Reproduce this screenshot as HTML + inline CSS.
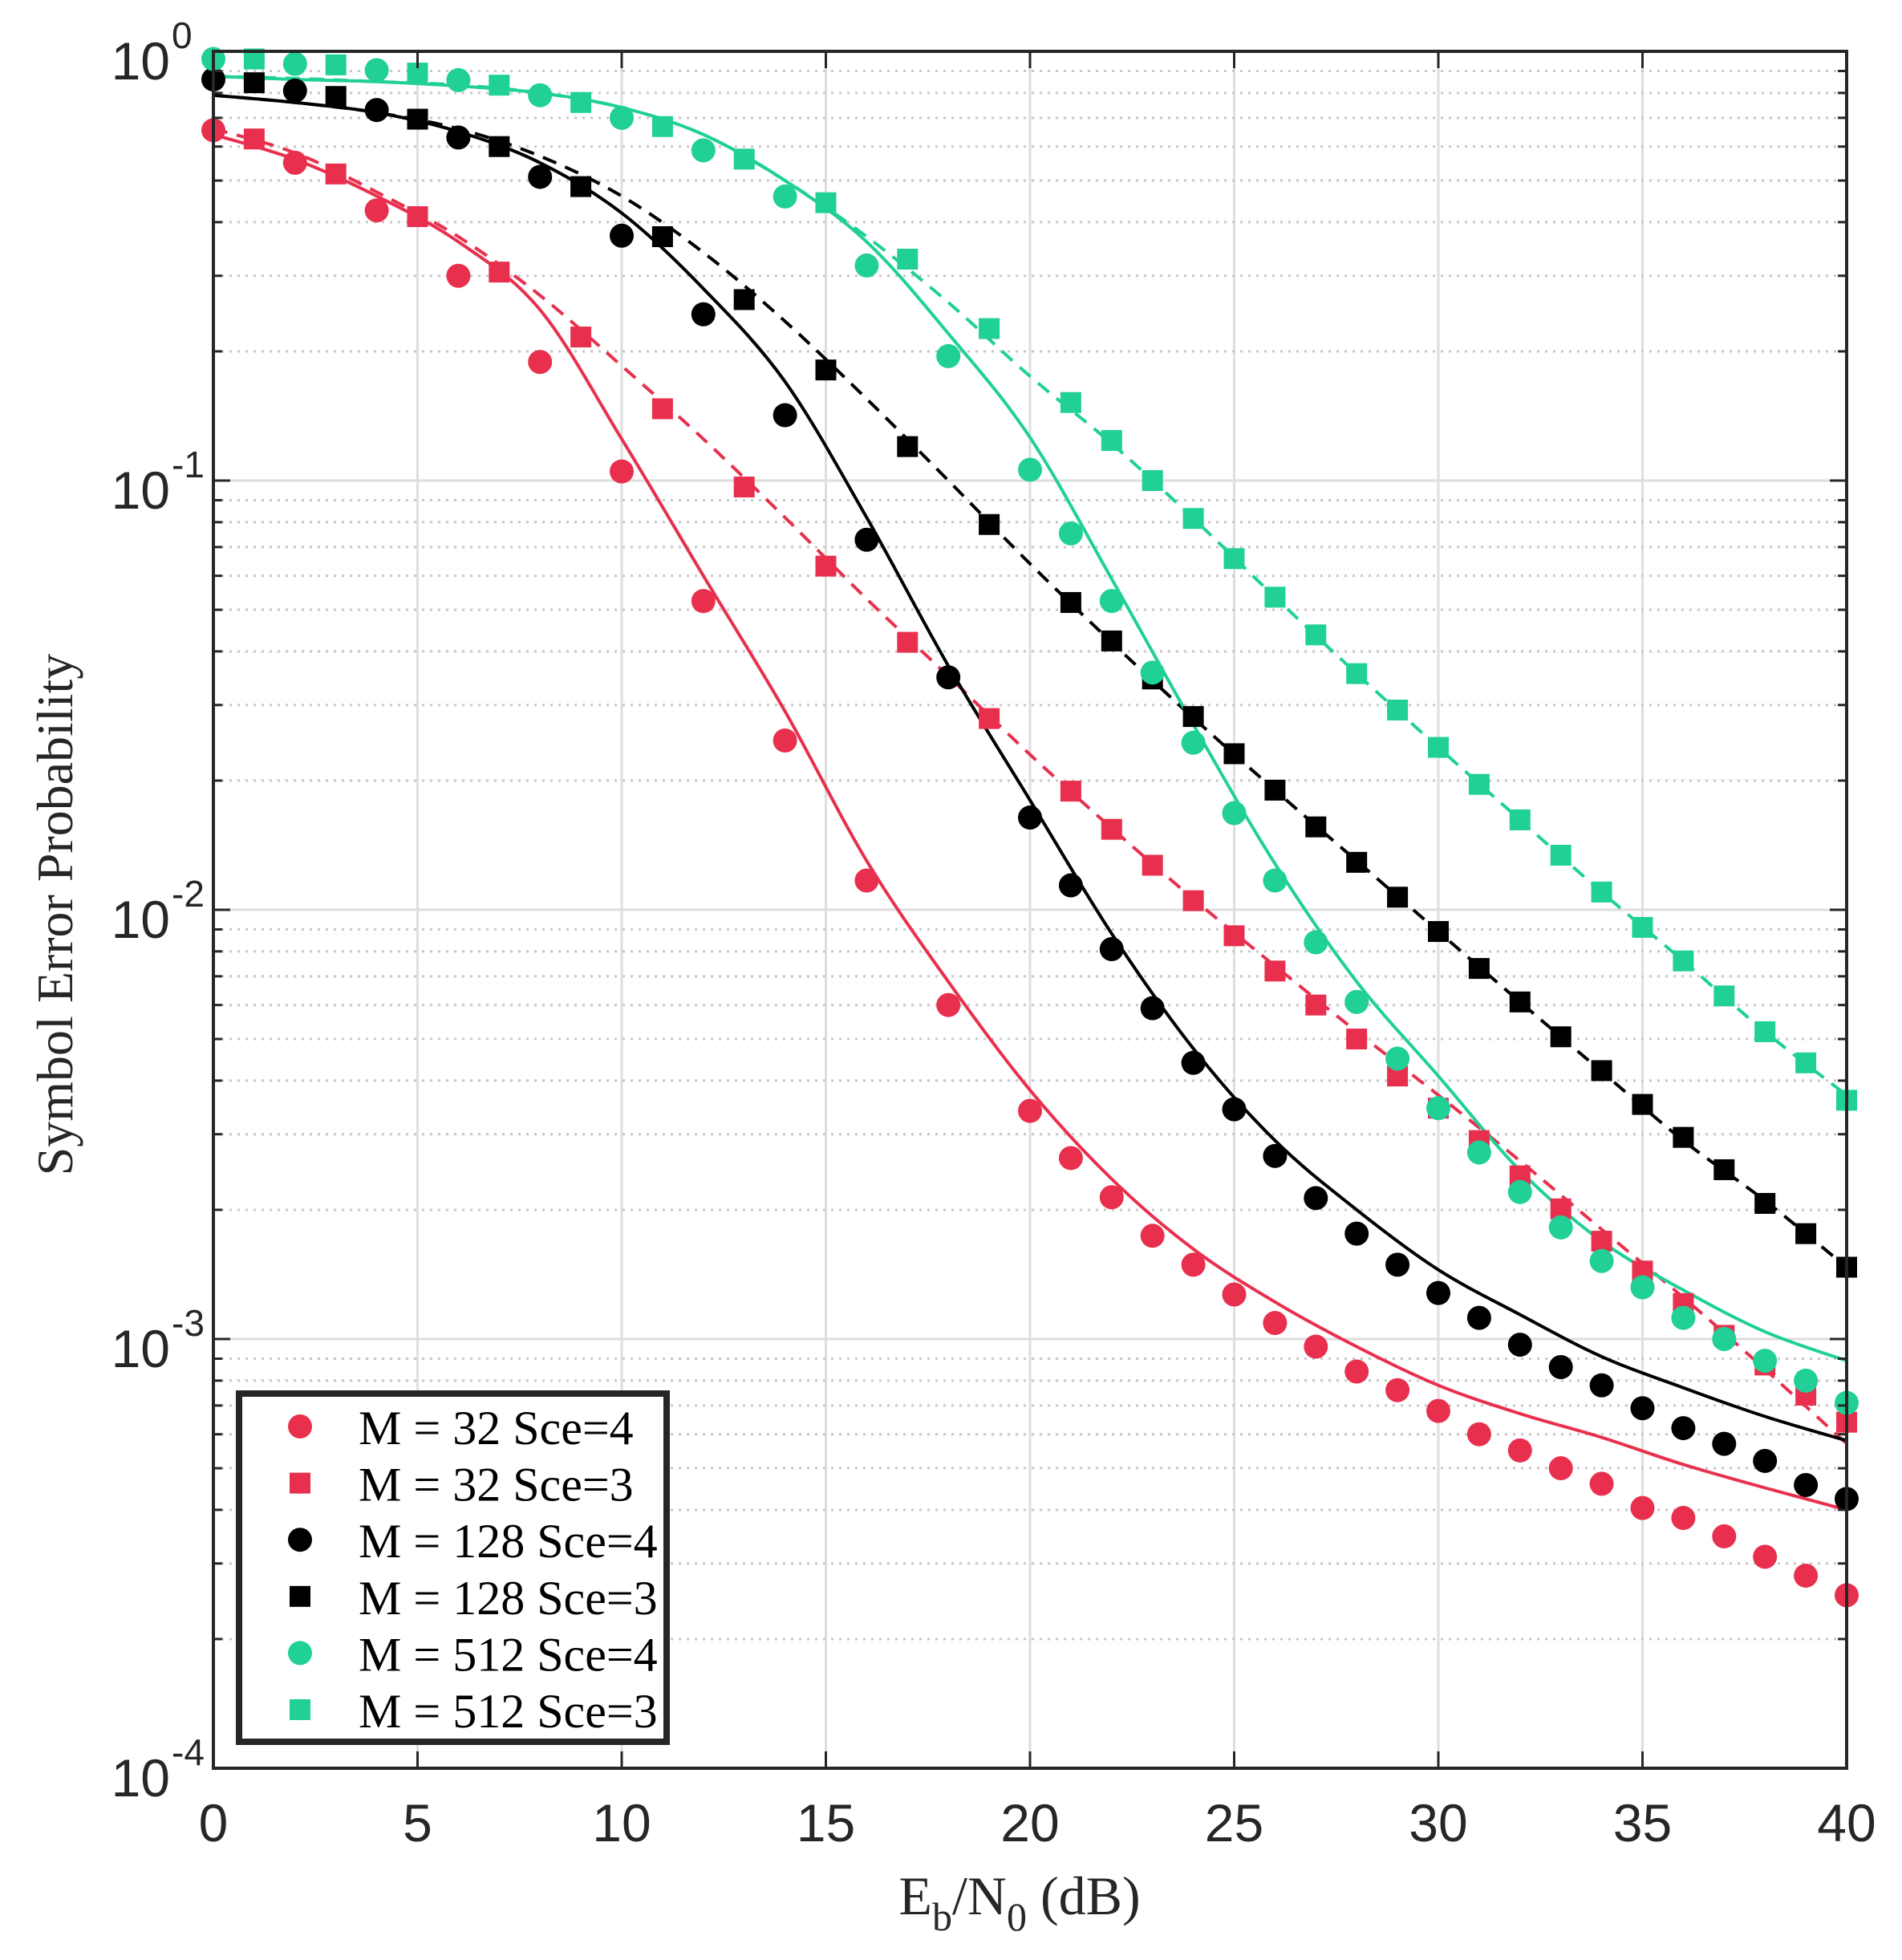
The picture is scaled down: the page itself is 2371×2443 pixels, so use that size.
<!DOCTYPE html>
<html><head><meta charset="utf-8"><style>
html,body{margin:0;padding:0;background:#fff;}
svg{display:block;}
</style></head><body>
<svg id="chart" xmlns="http://www.w3.org/2000/svg" width="2371" height="2443" viewBox="0 0 2371 2443">
<rect x="0" y="0" width="2371" height="2443" fill="#fff"/>
<g id="grid"></g>
<g id="series"></g>
<g id="axes"></g>
<text x="1271" y="2386" font-family="Liberation Serif, serif" font-size="68" fill="#262626" text-anchor="middle">E<tspan font-size="50" dy="20">b</tspan><tspan dy="-20">/N</tspan><tspan font-size="50" dy="20">0</tspan><tspan dy="-20"> (dB)</tspan></text>
<text x="0" y="0" transform="translate(90,1140) rotate(-90)" font-family="Liberation Serif, serif" font-size="64" fill="#262626" text-anchor="middle">Symbol Error Probability</text>
<g id="legend"></g>
</svg>
<script>
const xTicks = [0,5,10,15,20,25,30,35,40];
const yDecades = [0,-1,-2,-3,-4];
const seriesNames = ["M = 32 Sce=4","M = 32 Sce=3","M = 128 Sce=4","M = 128 Sce=3","M = 512 Sce=4","M = 512 Sce=3"];
const circleX = [0,2,4,6,8,10,12,14,16,18,20,21,22,23,24,25,26,27,28,29,30,31,32,33,34,35,36,37,38,39,40];
const squareX = [1,3,5,7,9,11,13,15,17,19,21,22,23,24,25,26,27,28,29,30,31,32,33,34,35,36,37,38,39,40];
const lineX = [0,2,4,6,8,10,12,14,16,18,20,22,24,26,28,30,32,34,36,38,40];
const red4Pts = [0.655,0.55,0.426,0.30,0.189,0.105,0.0524,0.0248,0.0117,0.006,0.0034,0.00264,0.00214,0.00174,0.00149,0.00127,0.00109,0.00096,0.00084,0.00076,0.00068,0.0006,0.00055,0.0005,0.00046,0.000404,0.000383,0.000347,0.000311,0.000281,0.000253];
const red3Pts = [0.625,0.518,0.412,0.306,0.216,0.147,0.0966,0.0632,0.042,0.0279,0.0189,0.0154,0.0127,0.0105,0.0087,0.0072,0.006,0.005,0.0041,0.00345,0.0029,0.0024,0.00201,0.00169,0.00144,0.00121,0.00102,0.00087,0.00074,0.00064];
const blk4Pts = [0.86,0.81,0.73,0.63,0.51,0.372,0.244,0.142,0.0728,0.0348,0.0164,0.0114,0.0081,0.0059,0.0044,0.00343,0.00267,0.00213,0.00176,0.00149,0.00128,0.00112,0.00097,0.00086,0.00078,0.00069,0.00062,0.00057,0.00052,0.000457,0.000424];
const blk3Pts = [0.845,0.785,0.695,0.6,0.484,0.37,0.264,0.181,0.12,0.079,0.052,0.0423,0.0345,0.0282,0.0231,0.019,0.0156,0.0129,0.0107,0.0089,0.0073,0.0061,0.00506,0.00422,0.00352,0.00295,0.00248,0.00207,0.00176,0.00147];
const grn4Pts = [0.96,0.935,0.904,0.857,0.79,0.7,0.588,0.459,0.317,0.195,0.106,0.0753,0.0524,0.0357,0.0245,0.0168,0.0117,0.0084,0.0061,0.0045,0.00345,0.00272,0.0022,0.00182,0.00152,0.00132,0.00112,0.001,0.00089,0.0008,0.00071];
const grn3Pts = [0.96,0.93,0.89,0.834,0.76,0.668,0.561,0.444,0.328,0.226,0.152,0.124,0.1,0.0816,0.0658,0.0535,0.0437,0.0355,0.0292,0.0239,0.0196,0.0162,0.0134,0.011,0.0091,0.0076,0.0063,0.0052,0.0044,0.0036];
const red4Line = [0.64,0.56,0.46,0.36,0.25,0.125,0.06,0.029,0.013,0.0068,0.0038,0.00236,0.00162,0.00122,0.00096,0.00078,0.00067,0.00059,0.00051,0.00045,0.0004];
const red3Line = [0.66,0.58,0.47,0.37,0.27,0.185,0.125,0.082,0.053,0.035,0.023,0.0155,0.0106,0.0074,0.0052,0.0037,0.0026,0.0018,0.00125,0.00085,0.00057];
const blk4Line = [0.79,0.76,0.72,0.65,0.55,0.42,0.28,0.17,0.082,0.037,0.018,0.0088,0.00475,0.0029,0.002,0.00145,0.00114,0.00091,0.00077,0.00066,0.00058];
const blk3Line = [0.79,0.76,0.72,0.66,0.57,0.46,0.34,0.235,0.155,0.1,0.064,0.042,0.028,0.019,0.013,0.0089,0.0061,0.0042,0.0029,0.0021,0.00147];
const grn4Line = [0.875,0.86,0.85,0.83,0.8,0.74,0.64,0.5,0.36,0.22,0.126,0.059,0.027,0.0128,0.0068,0.0041,0.00247,0.00169,0.0013,0.00104,0.00089];
const grn3Line = [0.875,0.865,0.85,0.835,0.8,0.74,0.64,0.5,0.37,0.26,0.175,0.122,0.0816,0.0535,0.0355,0.0239,0.0162,0.011,0.0076,0.0052,0.0037];

const NS = "http://www.w3.org/2000/svg";
const L = 266, R = 2302, T = 64, B = 2204;
function xs(v){ return L + (v - 0) / 40 * (R - L); }
function ys(v){ return T + (0 - Math.log10(v)) / 4 * (B - T); }
function mk(tag, attrs, parent){
  const e = document.createElementNS(NS, tag);
  for (const k in attrs) e.setAttribute(k, attrs[k]);
  parent.appendChild(e);
  return e;
}
const grid = document.getElementById('grid');
const axes = document.getElementById('axes');
const series = document.getElementById('series');
const legend = document.getElementById('legend');

xTicks.forEach(t => {
  const x = xs(t);
  if (t > 0 && t < 40) {
    const g = mk('line', {x1:x, x2:x, y1:T, y2:B, stroke:'#dedede', 'stroke-width':3}, grid);
    
    
  }
  const tk1 = mk('line', {x1:x, x2:x, y1:B, y2:B-21, stroke:'#262626', 'stroke-width':3}, axes);
  
  
  const tk2 = mk('line', {x1:x, x2:x, y1:T, y2:T+21, stroke:'#262626', 'stroke-width':3}, axes);
  
  
  const lb = mk('text', {x:x, y:2295, 'font-family':'Liberation Sans, sans-serif', 'font-size':66, fill:'#262626', 'text-anchor':'middle'}, axes);
  lb.textContent = String(t);
  
  
});
yDecades.forEach(d => {
  const v = Math.pow(10, d);
  const y = ys(v);
  if (d < 0 && d > -4) {
    const g = mk('line', {x1:L, x2:R, y1:y, y2:y, stroke:'#dedede', 'stroke-width':3}, grid);
    
    
  }
  [L, R].forEach((ax, i) => {
    const tk = mk('line', {x1:ax, x2: i===0 ? ax+21 : ax-21, y1:y, y2:y, stroke:'#262626', 'stroke-width':3}, axes);
    
    
  });
  const lb = mk('text', {x:212, y:y+35, 'font-family':'Liberation Sans, sans-serif', 'font-size':66, fill:'#262626', 'text-anchor':'end'}, axes);
  lb.textContent = '10';
  
  
  const ex = mk('text', {x:214, y:y-4, 'font-family':'Liberation Sans, sans-serif', 'font-size':46, fill:'#262626', 'text-anchor':'start'}, axes);
  ex.textContent = String(d);
  
  
  if (d > -4) {
    for (let m = 2; m <= 9; m++) {
      const yy = ys(v / 10 * m);
      const g = mk('line', {x1:L, x2:R, y1:yy, y2:yy, stroke:'#c8c8c8', 'stroke-width':3, 'stroke-dasharray':'3 7'}, grid);
      
      
      [L, R].forEach((ax, i) => {
        const tk = mk('line', {x1:ax, x2: i===0 ? ax+11 : ax-11, y1:yy, y2:yy, stroke:'#262626', 'stroke-width':3}, axes);
        
        
      });
    }
  }
});
const frame = mk('rect', {x:L, y:T, width:R-L, height:B-T, fill:'none', stroke:'#262626', 'stroke-width':4}, axes);



function smoothPath(xv, yv){
  const p = xv.map((x, i) => [xs(x), ys(yv[i])]);
  let d = 'M' + p[0][0].toFixed(1) + ',' + p[0][1].toFixed(1);
  for (let i = 0; i < p.length - 1; i++) {
    const p0 = p[Math.max(0, i-1)], p1 = p[i], p2 = p[i+1], p3 = p[Math.min(p.length-1, i+2)];
    const c1x = p1[0] + (p2[0]-p0[0])/6, c1y = p1[1] + (p2[1]-p0[1])/6;
    const c2x = p2[0] - (p3[0]-p1[0])/6, c2y = p2[1] - (p3[1]-p1[1])/6;
    d += ' C' + c1x.toFixed(1)+','+c1y.toFixed(1)+' '+c2x.toFixed(1)+','+c2y.toFixed(1)+' '+p2[0].toFixed(1)+','+p2[1].toFixed(1);
  }
  return d;
}
const RED = '#E8304E', GRN = '#20D096', BLK = '#000000';
const lines = [[red4Line, RED, false, 'line-m32-sce4'], [red3Line, RED, true, 'line-m32-sce3'],
  [blk4Line, BLK, false, 'line-m128-sce4'], [blk3Line, BLK, true, 'line-m128-sce3'],
  [grn4Line, GRN, false, 'line-m512-sce4'], [grn3Line, GRN, true, 'line-m512-sce3']];
lines.forEach(([vals, col, dashed, name]) => {
  const a = {d: smoothPath(lineX, vals), fill:'none', stroke:col, 'stroke-width':4};
  if (dashed) a['stroke-dasharray'] = '18 12';
  const p = mk('path', a, series);
  
  
});
const markers = [[circleX, red4Pts, RED, 'c', 'marker-m32-sce4'], [squareX, red3Pts, RED, 's', 'marker-m32-sce3'],
  [circleX, blk4Pts, BLK, 'c', 'marker-m128-sce4'], [squareX, blk3Pts, BLK, 's', 'marker-m128-sce3'],
  [circleX, grn4Pts, GRN, 'c', 'marker-m512-sce4'], [squareX, grn3Pts, GRN, 's', 'marker-m512-sce3']];
function drawMarker(shape, cx, cy, col, parent){
  if (shape === 'c') return mk('ellipse', {cx:cx, cy:cy, rx:15, ry:15, fill:col}, parent);
  return mk('rect', {x:cx-13, y:cy-13, width:26, height:26, fill:col}, parent);
}
markers.forEach(([xv, yv, col, shape, name]) => {
  xv.forEach((x, i) => {
    const m = drawMarker(shape, xs(x), ys(yv[i]), col, series);
    
    
  });
});
const box = mk('rect', {x:298, y:1737, width:533, height:434, fill:'#fff', stroke:'#262626', 'stroke-width':8}, legend);


seriesNames.forEach((nm, i) => {
  const cy = 1778 + i * 70.6;
  const m = drawMarker(markers[i][3], 374, cy, markers[i][2], legend);
  
  
  const t = mk('text', {x:447, y:cy+22, 'font-family':'Liberation Serif, serif', 'font-size':60, fill:'#000'}, legend);
  t.textContent = nm;
  
  
});
</script>
</body></html>
